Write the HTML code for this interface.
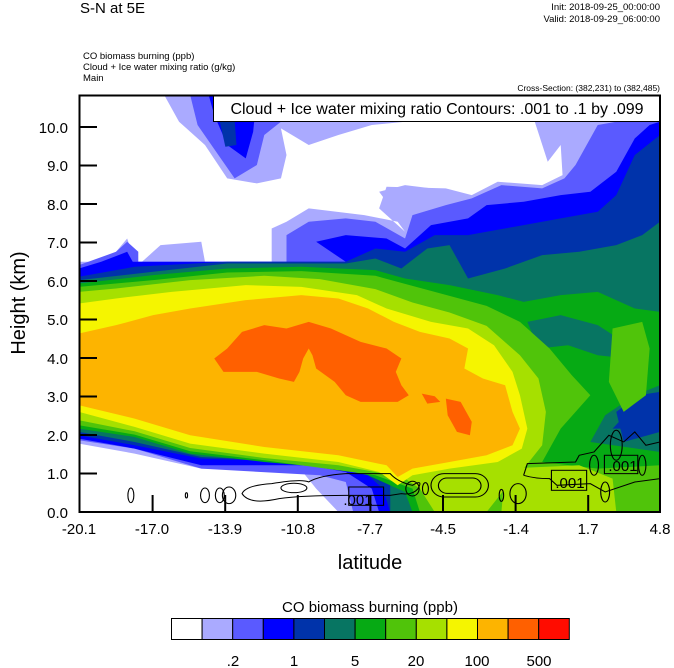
<!DOCTYPE html>
<html><head><meta charset="utf-8"><style>
html,body{margin:0;padding:0;background:#fff}
svg{display:block;font-family:"Liberation Sans",Arial,sans-serif}
</style></head><body>
<svg width="674" height="668" xmlns="http://www.w3.org/2000/svg">
<text x="80" y="13" font-size="15">S-N at 5E</text>
<text x="660" y="10" font-size="9.5" text-anchor="end">Init: 2018-09-25_00:00:00</text>
<text x="660" y="22" font-size="9.5" text-anchor="end">Valid: 2018-09-29_06:00:00</text>
<text x="83" y="59" font-size="9.5">CO biomass burning   (ppb)</text>
<text x="83" y="70" font-size="9.5">Cloud + Ice water mixing ratio   (g/kg)</text>
<text x="83" y="81" font-size="9.5">Main</text>
<text x="660" y="91" font-size="8.5" text-anchor="end">Cross-Section: (382,231) to (382,485)</text>

<svg x="79" y="95" width="581" height="417" viewBox="0 0 1568 1250" preserveAspectRatio="none">
<rect width="1568" height="1250" fill="#aaaaff"/>
<polygon fill="#fff" points="0,0 230,0 270,80 340,150 400,250 480,265 545,250 560,180 545,100 620,150 700,120 790,90 880,80 1230,80 1265,200 1300,150 1305,240 1250,270 1130,260 1060,300 990,280 830,275 810,340 880,410 860,380 770,360 620,340 560,380 520,400 520,500 340,500 330,440 220,450 200,470 170,500 150,500 145,480 130,430 100,470 60,500 0,500"/>
<polygon fill="#aaaaff" points="810,290 880,270 990,285 980,310 830,320"/>
<polygon fill="#fff" points="0,1045 150,1075 330,1120 600,1125 640,1180 700,1250 0,1250"/>
<polygon fill="#5a5aff" points="300,0 540,0 545,80 500,120 480,210 420,250 370,170 320,90"/>
<polygon fill="#0000ff" points="350,0 480,0 470,110 450,190 400,150 365,60"/>
<polygon fill="#0033aa" points="380,80 420,75 425,150 395,155"/>
<polygon fill="#5a5aff" points="0,510 100,470 130,440 160,470 160,500 560,500 560,420 620,380 720,370 800,380 880,430 900,360 990,330 1060,310 1140,270 1250,280 1310,250 1340,210 1400,90 1450,80 1568,80 1568,1250 740,1250 720,1160 650,1140 330,1120 150,1060 0,1035"/>
<polygon fill="#0000ff" points="0,520 60,500 130,470 145,500 720,500 640,440 720,420 830,430 880,460 950,390 1050,370 1100,330 1200,320 1300,300 1380,290 1450,230 1500,130 1540,90 1568,80 1568,1250 810,1250 790,1180 720,1130 620,1110 330,1110 150,1060 0,1030"/>
<polygon fill="#0033aa" points="0,545 150,515 400,500 720,500 800,460 880,470 960,420 1050,420 1100,410 1200,390 1300,370 1400,350 1450,300 1500,180 1568,120 1568,1250 840,1250 820,1180 760,1120 620,1100 330,1090 150,1050 0,1020"/>
<polygon fill="#077562" points="0,555 200,530 400,505 720,505 800,490 870,520 940,460 1000,450 1050,550 1150,520 1250,480 1350,470 1450,450 1520,420 1568,380 1568,900 1500,930 1440,1000 1568,1000 1568,1250 840,1250 840,1170 770,1120 620,1100 330,1085 150,1040 0,1010"/>
<polygon fill="#0033aa" points="1450,950 1510,900 1568,890 1568,1010 1470,1040"/>
<polygon fill="#06aa14" points="0,565 200,540 400,520 600,515 800,525 880,550 1000,570 1130,600 1200,620 1300,600 1400,590 1500,640 1568,650 1568,870 1500,900 1420,960 1380,1040 1568,1070 1568,1250 900,1250 880,1190 780,1140 700,1120 500,1100 300,1075 150,1025 0,1000"/>
<polygon fill="#077562" points="1210,680 1300,660 1400,690 1470,740 1480,790 1400,780 1320,750 1240,760"/>
<polygon fill="#50c40a" points="0,575 200,555 400,532 600,528 800,542 900,572 1000,602 1100,632 1190,680 1270,760 1330,840 1380,900 1300,1000 1250,1100 1400,1120 1568,1110 1568,1250 920,1250 900,1180 800,1140 700,1125 500,1095 300,1068 150,1018 0,990"/>
<polygon fill="#50c40a" points="1440,700 1520,680 1540,760 1530,900 1470,950 1430,860"/>
<polygon fill="#a6e000" points="0,590 100,580 300,555 500,542 650,552 800,582 900,622 1000,652 1100,692 1190,780 1240,850 1260,950 1250,1050 1200,1120 1150,1180 1100,1250 960,1250 920,1180 880,1150 800,1130 700,1110 500,1088 300,1058 150,1008 0,975"/>
<polygon fill="#a6e000" points="1150,1120 1350,1110 1440,1150 1450,1250 1140,1250"/>
<polygon fill="#f5f500" points="0,625 100,610 250,590 450,570 600,575 750,600 830,640 950,680 1050,700 1120,750 1170,830 1190,900 1210,1000 1195,1060 1130,1100 1000,1120 900,1140 860,1170 810,1130 700,1100 500,1075 300,1045 150,995 0,950"/>
<polygon fill="#fdb400" points="0,715 100,690 200,660 300,640 450,615 600,600 700,610 780,640 850,680 920,710 1000,730 1050,760 1040,820 1090,850 1150,870 1170,950 1190,1000 1170,1050 1100,1080 1000,1100 900,1120 860,1145 830,1110 700,1080 500,1055 300,1020 150,970 0,930"/>
<polygon fill="#ff6000" points="365,790 400,760 440,710 500,690 560,700 620,680 680,700 760,740 830,760 870,790 855,830 870,870 890,900 860,920 760,920 720,900 690,860 640,820 630,780 620,760 605,790 595,830 580,860 540,850 480,830 390,830"/>
<polygon fill="#ff6000" points="990,910 1030,920 1060,980 1055,1020 1020,1010 995,960"/>
<polygon fill="#ff6000" points="925,895 960,903 975,920 940,925"/>
<g fill="none" stroke="#000" stroke-width="3">
<ellipse cx="140" cy="1200" rx="8" ry="22"/>
<ellipse cx="290" cy="1200" rx="3" ry="8"/>
<ellipse cx="340" cy="1200" rx="12" ry="22"/>
<ellipse cx="380" cy="1200" rx="12" ry="22"/>
<ellipse cx="405" cy="1200" rx="18" ry="25"/>
<path d="M440,1195 Q450,1170 520,1165 Q600,1150 620,1160 Q650,1140 720,1135 L840,1135 Q860,1160 900,1170 Q930,1150 915,1180 Q900,1200 870,1195 L840,1200 L720,1200 Q600,1200 540,1210 Q460,1230 440,1195Z"/>
<ellipse cx="580" cy="1178" rx="35" ry="14"/>
<ellipse cx="900" cy="1180" rx="18" ry="22"/>
<ellipse cx="935" cy="1180" rx="8" ry="18"/>
<rect x="950" y="1135" width="155" height="70" rx="35"/>
<rect x="970" y="1148" width="115" height="46" rx="23"/>
<ellipse cx="1140" cy="1200" rx="6" ry="18"/>
<ellipse cx="1185" cy="1195" rx="22" ry="30"/>
<path d="M1200,1140 L1210,1105 L1340,1100 L1350,1080 L1390,1070 L1430,1020 L1470,1040 L1500,1010 L1530,1050 L1568,1040 M1200,1140 Q1230,1150 1270,1150 L1290,1170 L1380,1165 L1420,1190 L1500,1160 L1568,1150"/>
<ellipse cx="1450" cy="1050" rx="16" ry="45"/>
<ellipse cx="1390" cy="1110" rx="12" ry="30"/>
<ellipse cx="1520" cy="1110" rx="10" ry="30"/>
<ellipse cx="1420" cy="1190" rx="12" ry="30"/>
</g>
<g stroke="#000" stroke-width="3" fill="none">
<rect x="728" y="1175" width="94" height="55"/>
<rect x="1275" y="1125" width="95" height="60"/>
<rect x="1418" y="1080" width="90" height="55"/>
</g>
</svg>
<g font-size="15">
<text x="358" y="505" text-anchor="middle">.001</text>
<text x="570" y="488" text-anchor="middle">.001</text>
<text x="623" y="471" text-anchor="middle">.001</text>
</g>
<rect x="213.5" y="95.5" width="446" height="26" fill="#fff" stroke="#000"/>
<text x="437" y="114" font-size="16" text-anchor="middle">Cloud + Ice water mixing ratio Contours: .001 to .1 by .099</text>
<rect x="79.5" y="95.5" width="580.5" height="416.5" fill="none" stroke="#000" stroke-width="2"/>
<g stroke="#000" stroke-width="2">
<line x1="79" y1="127" x2="97" y2="127"/><line x1="79" y1="165.5" x2="97" y2="165.5"/>
<line x1="79" y1="204" x2="97" y2="204"/><line x1="79" y1="242.5" x2="97" y2="242.5"/>
<line x1="79" y1="281" x2="97" y2="281"/><line x1="79" y1="319.5" x2="97" y2="319.5"/>
<line x1="79" y1="358" x2="97" y2="358"/><line x1="79" y1="396.5" x2="97" y2="396.5"/>
<line x1="79" y1="435" x2="97" y2="435"/><line x1="79" y1="473.5" x2="97" y2="473.5"/>
<line x1="152.6" y1="512" x2="152.6" y2="495"/><line x1="225.2" y1="512" x2="225.2" y2="495"/>
<line x1="297.8" y1="512" x2="297.8" y2="495"/><line x1="370.4" y1="512" x2="370.4" y2="495"/>
<line x1="443" y1="512" x2="443" y2="495"/><line x1="515.6" y1="512" x2="515.6" y2="495"/>
<line x1="588.2" y1="512" x2="588.2" y2="495"/>
</g>
<g font-size="15" text-anchor="end">
<text x="68" y="133">10.0</text><text x="68" y="171">9.0</text><text x="68" y="210">8.0</text>
<text x="68" y="248">7.0</text><text x="68" y="287">6.0</text><text x="68" y="325">5.0</text>
<text x="68" y="364">4.0</text><text x="68" y="402">3.0</text><text x="68" y="441">2.0</text>
<text x="68" y="479">1.0</text><text x="68" y="518">0.0</text>
</g>
<g font-size="15" text-anchor="middle">
<text x="79" y="534">-20.1</text><text x="152" y="534">-17.0</text><text x="225" y="534">-13.9</text>
<text x="298" y="534">-10.8</text><text x="370" y="534">-7.7</text><text x="443" y="534">-4.5</text>
<text x="516" y="534">-1.4</text><text x="588" y="534">1.7</text><text x="660" y="534">4.8</text>
</g>
<text x="370" y="569" font-size="20" text-anchor="middle">latitude</text>
<text transform="translate(25,303) rotate(-90)" font-size="20" text-anchor="middle">Height (km)</text>
<text x="370" y="612" font-size="15" text-anchor="middle">CO biomass burning  (ppb)</text>
<g stroke="#000" stroke-width="1">
<rect x="171.5" y="618.5" width="30.6" height="21" fill="#fff"/>
<rect x="202.1" y="618.5" width="30.6" height="21" fill="#aaaaff"/>
<rect x="232.7" y="618.5" width="30.6" height="21" fill="#5a5aff"/>
<rect x="263.3" y="618.5" width="30.6" height="21" fill="#0000ff"/>
<rect x="293.9" y="618.5" width="30.6" height="21" fill="#0033aa"/>
<rect x="324.5" y="618.5" width="30.6" height="21" fill="#077562"/>
<rect x="355.1" y="618.5" width="30.6" height="21" fill="#06aa14"/>
<rect x="385.7" y="618.5" width="30.6" height="21" fill="#50c40a"/>
<rect x="416.3" y="618.5" width="30.6" height="21" fill="#a6e000"/>
<rect x="446.9" y="618.5" width="30.6" height="21" fill="#f5f500"/>
<rect x="477.5" y="618.5" width="30.6" height="21" fill="#fdb400"/>
<rect x="508.1" y="618.5" width="30.6" height="21" fill="#ff6000"/>
<rect x="538.7" y="618.5" width="30.6" height="21" fill="#ff0c00"/>
</g>
<g font-size="15" text-anchor="middle">
<text x="233" y="666">.2</text><text x="294" y="666">1</text><text x="355" y="666">5</text>
<text x="416" y="666">20</text><text x="477" y="666">100</text><text x="539" y="666">500</text>
</g>
</svg>
</body></html>
